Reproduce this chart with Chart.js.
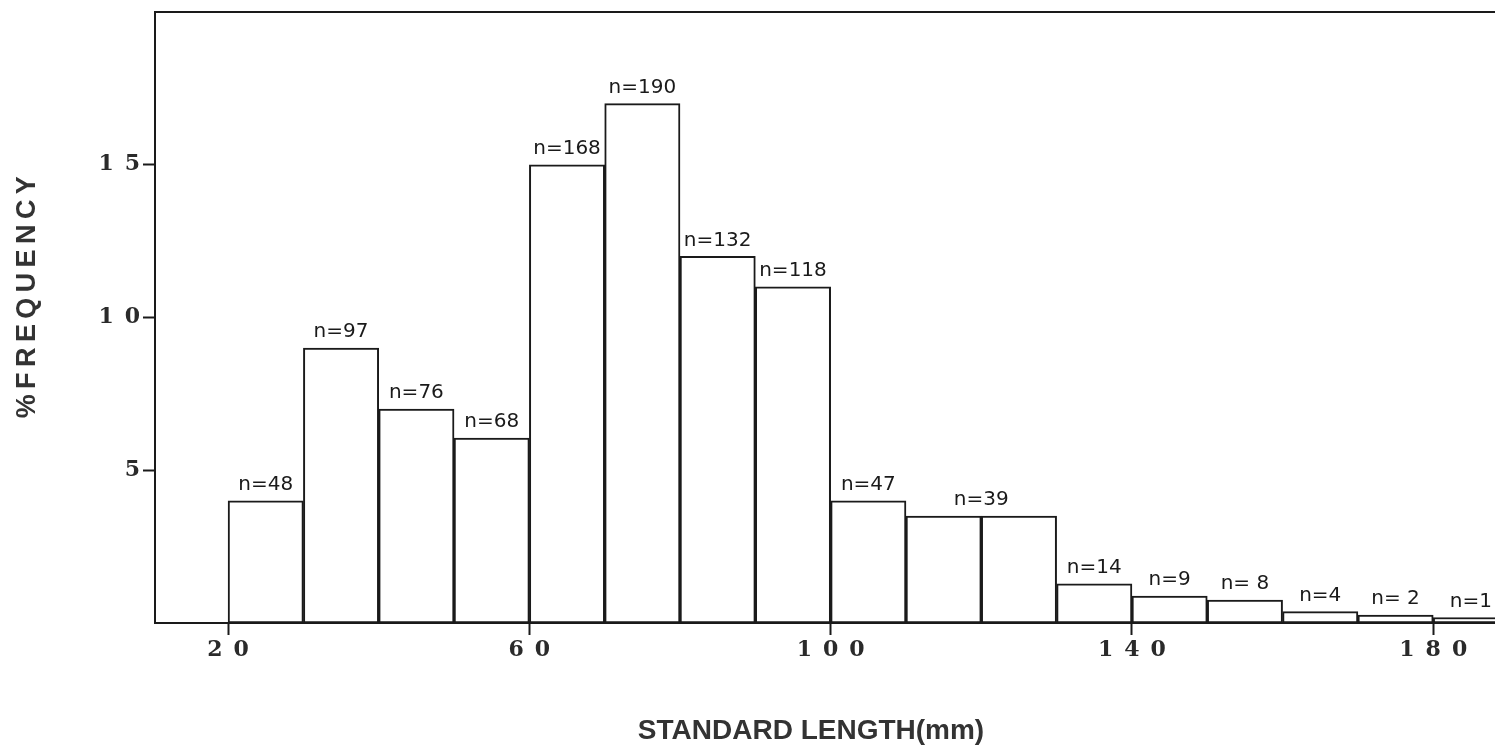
<!DOCTYPE html>
<html>
<head>
<meta charset="utf-8">
<script src="https://cdn.jsdelivr.net/npm/chart.js@4.4.1/dist/chart.umd.min.js"></script>
<style>
html,body{margin:0;padding:0;background:#fff;}
#wrap{width:1495px;height:749px;position:relative;}
</style>
</head>
<body>
<div id="wrap"><canvas id="c"></canvas></div>
<script>
// ---- data ----
const binStarts = [20, 30, 40, 50, 60, 70, 80, 90, 100, 110, 120, 130, 140, 150, 160, 170, 180];
const binWidth = 10;
const frequency = [4.0, 9.0, 7.0, 6.05, 15.0, 17.0, 12.0, 11.0, 4.0, 3.5, 3.5, 1.28, 0.88, 0.75, 0.37, 0.26, 0.18];
const counts = ['n=48', 'n=97', 'n=76', 'n=68', 'n=168', 'n=190', 'n=132', 'n=118', 'n=47', 'n=39', '', 'n=14', 'n=9', 'n= 8', 'n=4', 'n= 2', 'n=1'];
const xTicks = [20, 60, 100, 140, 180];
const yTicks = [5, 10, 15];
const xTitle = 'STANDARD LENGTH(mm)';
const yTitle = '%FREQUENCY';

const spaced = v => String(v).split('').join('\u2002');

const barLabels = {
  id: 'barLabels',
  afterDatasetsDraw(chart) {
    const ctx = chart.ctx;
    const bars = chart.getDatasetMeta(0).data;
    ctx.save();
    ctx.font = '20px "DejaVu Sans"';
    ctx.fillStyle = '#1a1a1a';
    ctx.textAlign = 'center';
    ctx.textBaseline = 'bottom';
    bars.forEach((bar, i) => {
      const txt = counts[i];
      if (!txt) return;
      let x = bar.x;
      if (i + 1 < bars.length && !counts[i + 1] && frequency[i + 1] === frequency[i]) {
        x = (bar.x + bars[i + 1].x) / 2;
      }
      ctx.fillText(txt, x, bar.y - 6);
    });
    ctx.restore();
  }
};

new Chart(document.getElementById('c'), {
  type: 'bar',
  data: {
    datasets: [{
      data: binStarts.map((s, i) => ({x: s + binWidth / 2, y: frequency[i]})),
      backgroundColor: '#ffffff',
      borderColor: '#1a1a1a',
      borderWidth: 2,
      borderSkipped: false,
      barPercentage: 1,
      categoryPercentage: 1
    }]
  },
  plugins: [barLabels],
  options: {
    responsive: true,
    maintainAspectRatio: false,
    animation: false,
    layout: {padding: {top: 12, right: 0, bottom: 0, left: 0}},
    plugins: {legend: {display: false}, tooltip: {enabled: false}},
    scales: {
      x: {
        type: 'linear',
        position: 'bottom',
        min: 10.3,
        max: 188.2,
        offset: false,
        afterBuildTicks: s => { s.ticks = xTicks.map(v => ({value: v})); },
        grid: {display: true, drawOnChartArea: false, drawTicks: true, tickLength: 12, tickWidth: 2, tickColor: '#1a1a1a', offset: false},
        border: {display: true, color: '#1a1a1a', width: 2},
        ticks: {
          color: '#2a2a2a',
          font: {family: '"DejaVu Serif"', size: 22, weight: 'bold'},
          padding: 2,
          maxRotation: 0,
          autoSkip: false,
          callback: v => spaced(v)
        },
        title: {
          display: true,
          text: xTitle + '\u2003',
          color: '#333',
          font: {family: '"Liberation Sans"', size: 28, weight: 'bold'},
          padding: {top: 49, bottom: 1}
        }
      },
      x2: {
        type: 'linear',
        position: 'top',
        min: 10.3,
        max: 188.2,
        grid: {display: false, drawTicks: false},
        ticks: {display: false},
        border: {display: true, color: '#1a1a1a', width: 2}
      },
      y: {
        type: 'linear',
        min: 0,
        max: 20,
        afterBuildTicks: s => { s.ticks = yTicks.map(v => ({value: v})); },
        afterFit: s => { s.paddingTop = 0; s.paddingBottom = 0; },
        grid: {display: true, drawOnChartArea: false, drawTicks: true, tickLength: 12, tickWidth: 2, tickColor: '#1a1a1a'},
        border: {display: true, color: '#1a1a1a', width: 2},
        ticks: {
          color: '#2a2a2a',
          font: {family: '"DejaVu Serif"', size: 22, weight: 'bold'},
          padding: 3,
          callback: v => spaced(v)
        },
        title: {
          display: true,
          text: '\u2003\u2002' + yTitle.split('').join('\u2009'),
          color: '#333',
          font: {family: '"Liberation Sans"', size: 27, weight: 'bold'},
          padding: {top: 11, bottom: 52}
        }
      }
    }
  }
});
</script>
</body>
</html>
